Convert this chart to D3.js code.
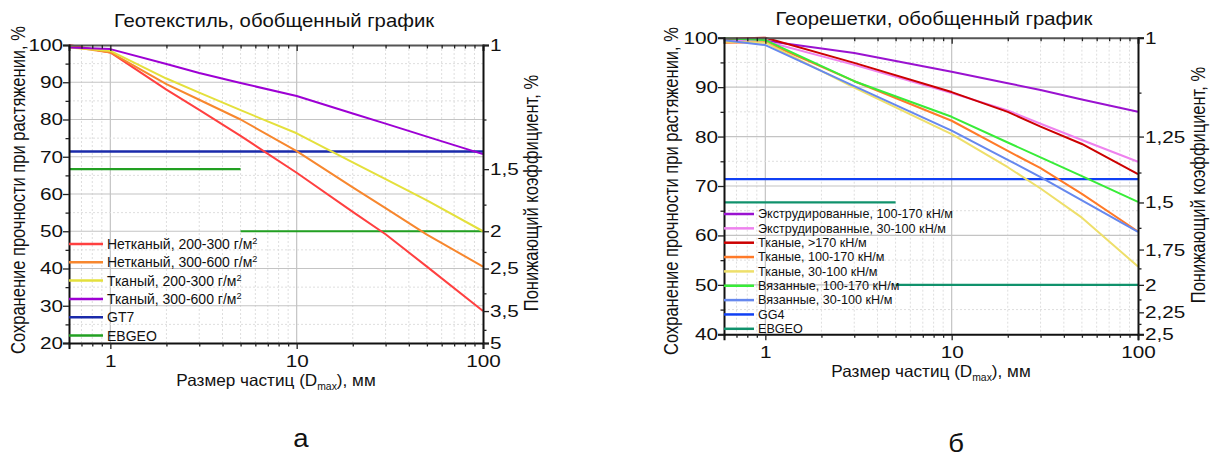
<!DOCTYPE html>
<html>
<head>
<meta charset="utf-8">
<script src="https://cdn.jsdelivr.net/npm/d3@7/dist/d3.min.js"></script>
<style>
  body { margin: 0; background: #fff; }
  text { font-family: "Liberation Sans", Arial, sans-serif; fill: #111; }
</style>
</head>
<body>
<svg id="chart" width="1214" height="459"></svg>
<script>
// ---- data: geotextiles (left chart) ----
const geoX = [0.6, 1, 2, 3, 5, 10, 20, 30, 50, 100];
const geoNonwoven200 = [100, 98, 88, 82.6, 75.6, 65.7, 55.2, 49.2, 40.5, 28.6];
const geoNonwoven300 = [99.6, 98, 89.5, 85.3, 80, 71.5, 61.8, 56.2, 49.1, 40.5];
const geoWoven200 = [99.3, 98.4, 91, 87.2, 82.5, 76.3, 68.5, 64, 58.3, 50];
const geoWoven300 = [99.3, 98.9, 94.9, 92.5, 89.8, 86.3, 81.6, 78.9, 75.4, 70.7];
const geoLabels = ["Нетканый, 200-300 г/м", "Нетканый, 300-600 г/м", "Тканый, 200-300 г/м", "Тканый, 300-600 г/м", "GT7", "EBGEO"];
const gt7Level = 71.4;

// ---- data: geogrids (right chart) ----
const gridX = [0.6, 1, 3, 10, 20, 30, 50, 100];
const gridExtr100 = [99.6, 99.4, 96.9, 93.1, 90.8, 89.4, 87.5, 85];
const gridExtr30 = [99.5, 99.3, 94.5, 88.8, 85.3, 82.6, 79.3, 74.9];
const gridWoven170 = [99.8, 100, 94.9, 89, 85, 82, 78.5, 72.4];
const gridWoven100 = [99, 99.1, 91.2, 83.2, 77.1, 73.6, 68.4, 60.8];
const gridWoven30 = [99.2, 99, 89.9, 80.5, 73.8, 69.5, 63.6, 53.7];
const gridKnit100 = [99.9, 99.5, 91.2, 84, 78.8, 75.8, 72, 66.8];
const gridKnit30 = [99.5, 98.5, 90.2, 81.2, 75.3, 71.8, 67.1, 60.7];
const gridLabels = ["Экструдированные, 100-170 кН/м", "Экструдированные, 30-100 кН/м", "Тканые, >170 кН/м",
  "Тканые, 100-170 кН/м", "Тканые, 30-100 кН/м", "Вязанные, 100-170 кН/м", "Вязанные, 30-100 кН/м", "GG4", "EBGEO"];
const gg4Level = 71.4;

// EBGEO steps: [from mm, to mm, retention %]
const ebgeoSteps = [[0.6, 5, 66.7], [5, 100, 50]];

// reduction factor ticks (right axis)
const geoFactorMajor = [1, 1.5, 2, 2.5, 3.5, 5];
const geoFactorMinor = [1.25, 1.75, 2.25, 3, 4.25];
const gridFactorMajor = [1, 1.25, 1.5, 1.75, 2, 2.25, 2.5];
const gridFactorMinor = [1.125, 1.375, 1.625, 1.875, 2.125, 2.375];

const SX = 1.22; // tick labels in the reference look horizontally stretched
const svg = d3.select("#chart");
const ru = d3.formatLocale({ decimal: ",", thousands: " ", grouping: [3], currency: ["", ""] });
const fmtFactor = ru.format(".3~r");

function xTicks(lo, hi) {
  const out = [];
  [0.1, 1, 10].forEach((p) => {
    for (let k = 1; k < 10; k++) {
      const v = +(k * p).toFixed(2);
      if (v >= lo - 1e-9 && v <= hi) out.push(v);
    }
  });
  out.push(100);
  return out;
}
const isPow10 = (v) => Math.abs(Math.log10(v) - Math.round(Math.log10(v))) < 1e-9;

function drawChart(cfg) {
  const g = svg.append("g");
  const x = d3.scaleLog().domain([0.6, 100]).range([cfg.x0, cfg.x1]);
  const y = d3.scaleLinear().domain(cfg.yDom).range([cfg.y1, cfg.y0]);
  const xt = xTicks(0.6, 100);
  const yt = d3.range(cfg.yDom[0], cfg.yDom[1] + 1, 5);

  // grid
  const grid = g.append("g");
  grid.selectAll(".gx").data(xt.filter((v) => v > 0.6 && v < 100)).join("line")
    .attr("x1", (d) => x(d)).attr("x2", (d) => x(d)).attr("y1", cfg.y0).attr("y2", cfg.y1)
    .attr("stroke", (d) => (isPow10(d) ? "#c4c4c4" : "#dedede"))
    .attr("stroke-width", (d) => (isPow10(d) ? 1.2 : 1))
    .attr("stroke-dasharray", (d) => (isPow10(d) ? null : "2,2"));
  grid.selectAll(".gy").data(yt.filter((v) => v > cfg.yDom[0] && v < 100)).join("line")
    .attr("x1", cfg.x0).attr("x2", cfg.x1).attr("y1", (d) => y(d)).attr("y2", (d) => y(d))
    .attr("stroke", (d) => (d % 10 === 0 ? "#c4c4c4" : "#dedede"))
    .attr("stroke-width", (d) => (d % 10 === 0 ? 1.2 : 1))
    .attr("stroke-dasharray", (d) => (d % 10 === 0 ? null : "2,2"));

  // reference lines
  const refs = g.append("g").attr("fill", "none");
  refs.append("line").attr("x1", x(0.6)).attr("x2", x(100)).attr("y1", y(cfg.level)).attr("y2", y(cfg.level))
    .attr("stroke", cfg.levelColor).attr("stroke-width", 2.4);
  refs.selectAll(".eb").data(ebgeoSteps).join("line")
    .attr("x1", (d) => x(d[0])).attr("x2", (d) => x(d[1])).attr("y1", (d) => y(d[2])).attr("y2", (d) => y(d[2]))
    .attr("stroke", cfg.ebColor).attr("stroke-width", 2.2);

  // data lines
  const line = d3.line().x((d) => x(d[0])).y((d) => y(d[1]));
  g.append("g").attr("fill", "none").attr("stroke-width", 2).attr("stroke-linejoin", "round")
    .selectAll("path").data(cfg.series).join("path")
    .attr("stroke", (d) => d.color)
    .attr("d", (d) => line(cfg.xs.map((v, i) => [v, d.values[i]])));

  // axes
  const styleAxis = (sel) => {
    sel.attr("font-size", 17).attr("font-family", null);
    sel.select(".domain").attr("stroke", "#111").attr("stroke-width", 2);
    sel.selectAll(".tick line").attr("stroke", "#222").attr("stroke-width", 1.3);
    sel.selectAll(".tick text").attr("fill", "#111");
  };
  const bottom = g.append("g").attr("transform", `translate(0,${cfg.y1})`)
    .call(d3.axisBottom(x).tickValues(xt).tickSizeOuter(0).tickSize(6)
      .tickFormat((d) => (isPow10(d) ? d3.format("d")(d) : "")))
    .call(styleAxis);
  bottom.selectAll(".tick line").attr("y2", (d) => (isPow10(d) ? 6 : 3.5));
  bottom.selectAll(".tick text").attr("y", cfg.xLabelGap).attr("transform", `scale(${SX},1)`);

  const top = g.append("g").attr("transform", `translate(0,${cfg.y0})`)
    .call(d3.axisTop(x).tickValues(xt).tickSizeOuter(0).tickSize(-6).tickFormat(""))
    .call(styleAxis);
  top.select(".domain").attr("stroke", "#555");
  top.selectAll(".tick line").attr("y2", (d) => (isPow10(d) ? 6 : 3.5));

  const left = g.append("g").attr("transform", `translate(${cfg.x0},0)`)
    .call(d3.axisLeft(y).tickValues(yt).tickSizeOuter(0).tickSize(6)
      .tickFormat((d) => (d % 10 === 0 ? d : "")))
    .call(styleAxis);
  left.selectAll(".tick line").attr("x2", (d) => (d % 10 === 0 ? -6 : -3.5));
  left.selectAll(".tick text").attr("x", -6 / SX).attr("transform", `scale(${SX},1)`);

  const fTicks = cfg.fMajor.map((f) => ({ f, major: true })).concat(cfg.fMinor.map((f) => ({ f, major: false })));
  const rightAx = g.append("g").attr("transform", `translate(${cfg.x1},0)`)
    .call(d3.axisRight(y).tickValues(fTicks.map((t) => 100 / t.f)).tickSizeOuter(0).tickSize(6)
      .tickFormat((r) => (cfg.fMajor.some((f) => Math.abs(100 / f - r) < 1e-6) ? fmtFactor(100 / r) : "")))
    .call(styleAxis);
  rightAx.selectAll(".tick line").attr("x2", (r) => (cfg.fMajor.some((f) => Math.abs(100 / f - r) < 1e-6) ? 6 : 3.5));
  rightAx.selectAll(".tick text").attr("x", 7 / SX).attr("transform", `scale(${SX},1)`);

  // titles and axis labels
  const stretched = (px, py, size, sx, rot) => g.append("g")
    .attr("transform", rot ? `translate(${px},${py}) rotate(-90) scale(1,${sx})` : `translate(${px},${py}) scale(${sx},1)`)
    .append("text").attr("text-anchor", "middle").attr("font-size", size);

  stretched(cfg.titleX, cfg.titleY, 17.5, 1.16).text(cfg.title);
  stretched(cfg.yLabX, cfg.yLabY, 16.5, 1.2, true).text("Сохранение прочности при растяжении, %");
  stretched(cfg.fLabX, cfg.fLabY, 16.5, 1.2, true).text("Понижающий коэффициент, %");
  const xl = stretched(cfg.xLabX, cfg.xLabY, 16.5, 1.04);
  xl.append("tspan").text("Размер частиц (D");
  xl.append("tspan").attr("font-size", 10).attr("dy", 4).text("max");
  xl.append("tspan").attr("dy", -4).text("), мм");
  stretched(cfg.tagX, cfg.tagY, 25, 1.1).text(cfg.tag);

  // legend
  const leg = g.append("g");
  const items = cfg.series.map((s, i) => ({ color: s.color, label: cfg.labels[i], sup: cfg.sup }))
    .concat([{ color: cfg.levelColor, label: cfg.labels[cfg.series.length] },
             { color: cfg.ebColor, label: cfg.labels[cfg.series.length + 1] }]);
  const row = leg.selectAll("g").data(items).join("g")
    .attr("transform", (d, i) => `translate(${cfg.x0},${cfg.legY + i * cfg.legStep})`);
  row.append("line").attr("x1", 0).attr("x2", cfg.legLine).attr("stroke", (d) => d.color).attr("stroke-width", 2.5);
  const lt = row.append("g").attr("transform", `translate(${cfg.legLine + 4},${cfg.legFont * 0.36}) scale(${cfg.legSX},1)`)
    .append("text").attr("font-size", cfg.legFont);
  lt.append("tspan").text((d) => d.label);
  lt.filter((d) => d.sup).append("tspan").attr("font-size", cfg.legFont * 0.65).attr("dy", -5).text("2");
}

drawChart({
  x0: 69, x1: 483, y0: 45, y1: 343, yDom: [20, 100], xLabelGap: 12,
  fMajor: geoFactorMajor, fMinor: geoFactorMinor,
  xs: geoX,
  series: [
    { values: geoNonwoven200, color: "#ff4040" },
    { values: geoNonwoven300, color: "#f7872e" },
    { values: geoWoven200, color: "#e4e03c" },
    { values: geoWoven300, color: "#9d00d4" },
  ],
  labels: geoLabels, sup: true,
  level: gt7Level, levelColor: "#1a2aaa", ebColor: "#22a022",
  title: "Геотекстиль, обобщенный график", titleX: 274, titleY: 27,
  yLabX: 25, yLabY: 190, fLabX: 538, fLabY: 193,
  xLabX: 276, xLabY: 386, tag: "а", tagX: 301, tagY: 447,
  legY: 244, legStep: 18.3, legLine: 34, legFont: 14, legSX: 1.0,
});

drawChart({
  x0: 724, x1: 1138, y0: 37.7, y1: 334.3, yDom: [40, 100], xLabelGap: 12,
  fMajor: gridFactorMajor, fMinor: gridFactorMinor,
  xs: gridX,
  series: [
    { values: gridExtr100, color: "#9a12d0" },
    { values: gridExtr30, color: "#ee82ee" },
    { values: gridWoven170, color: "#cc0000" },
    { values: gridWoven100, color: "#ff7a28" },
    { values: gridWoven30, color: "#eedf6a" },
    { values: gridKnit100, color: "#38ec38" },
    { values: gridKnit30, color: "#6688ee" },
  ],
  labels: gridLabels, sup: false,
  level: gg4Level, levelColor: "#1040f4", ebColor: "#10926c",
  title: "Георешетки, обобщенный график", titleX: 934, titleY: 25,
  yLabX: 678, yLabY: 191, fLabX: 1205, fLabY: 185,
  xLabX: 931, xLabY: 377, tag: "б", tagX: 956, tagY: 452,
  legY: 214, legStep: 14.35, legLine: 30, legFont: 12, legSX: 1.05,
});
</script>
</body>
</html>
